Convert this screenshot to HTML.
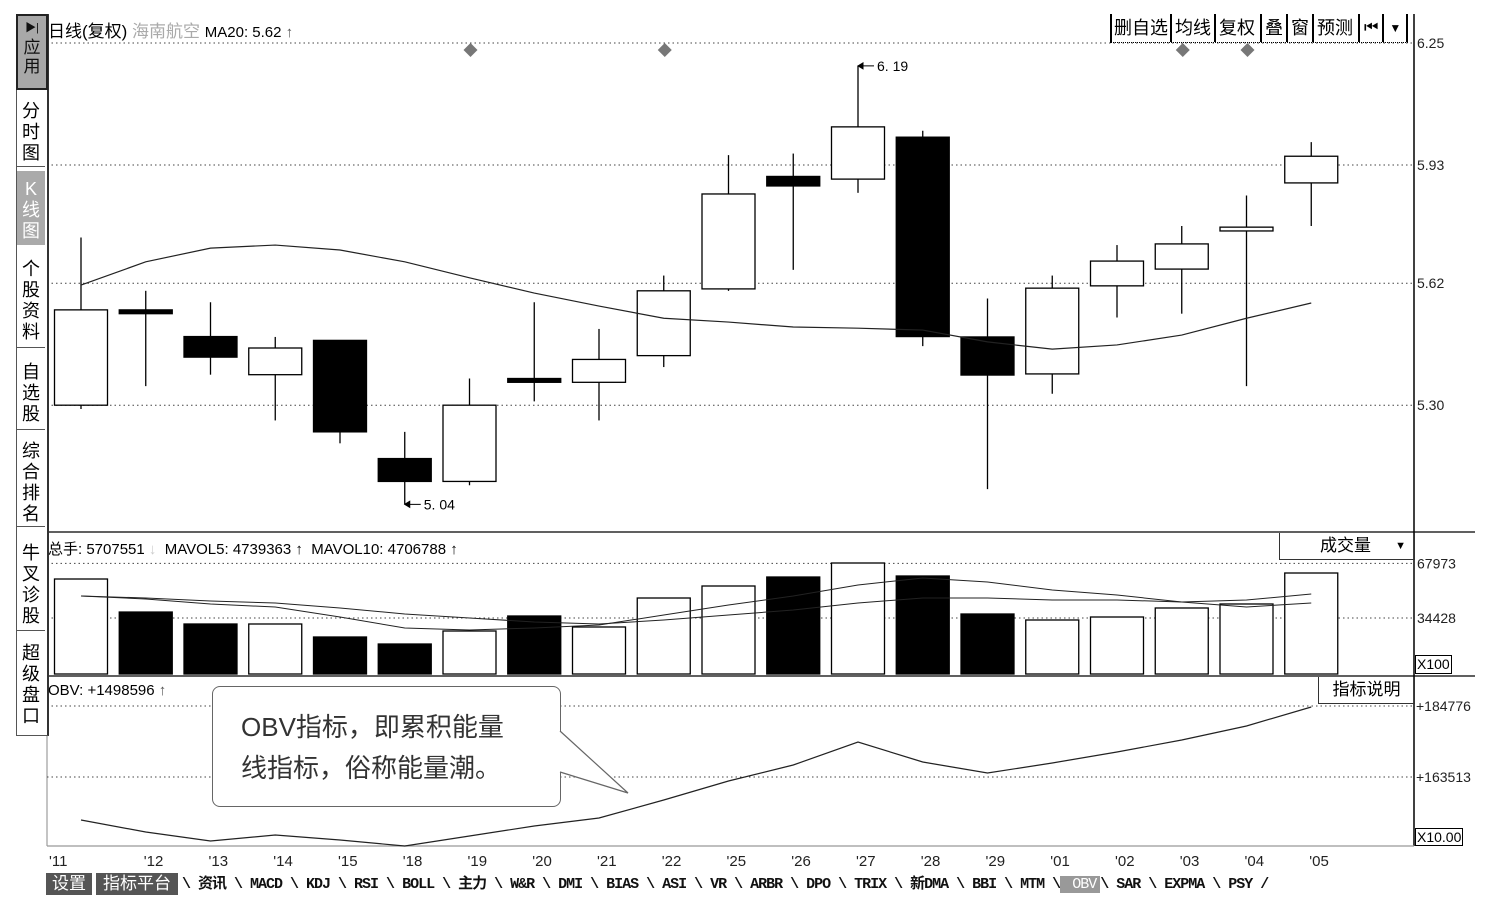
<!DOCTYPE html>
<html><head><meta charset="utf-8"><style>
html,body{margin:0;padding:0;background:#fff;}
svg text{font-family:"Liberation Sans","Noto Sans CJK SC",sans-serif;}
</style></head><body>
<svg id="c" width="1510" height="910" xmlns="http://www.w3.org/2000/svg">
</svg>
<script>
const dates=["11","12","13","14","15","18","19","20","21","22","25","26","27","28","29","01","02","03","04","05"];
const opens=[5.30,5.55,5.48,5.38,5.47,5.16,5.10,5.37,5.36,5.43,5.605,5.90,5.893,6.003,5.479,5.382,5.613,5.657,5.757,5.883];
const closes=[5.55,5.54,5.426,5.45,5.23,5.10,5.30,5.36,5.42,5.60,5.854,5.875,6.03,5.48,5.379,5.607,5.678,5.723,5.767,5.953];
const highs=[5.74,5.60,5.57,5.479,5.47,5.23,5.37,5.57,5.50,5.64,5.956,5.96,6.19,6.02,5.58,5.64,5.72,5.77,5.85,5.99];
const lows=[5.29,5.35,5.38,5.26,5.20,5.04,5.09,5.31,5.26,5.40,5.60,5.655,5.857,5.455,5.08,5.33,5.53,5.54,5.35,5.77];
const ma20=[5.615,5.676,5.712,5.720,5.707,5.676,5.634,5.594,5.560,5.528,5.518,5.505,5.502,5.497,5.466,5.447,5.458,5.484,5.528,5.568];
const priceTicks=["6.25","5.93","5.62","5.30"];
const volumes=[58400,38100,30740,30740,22750,18440,26440,35660,28900,46720,54100,59630,68240,60250,36890,33200,35040,40580,43040,62090];
const mavol5=[47950,46110,43030,41190,35040,28280,27050,28280,30120,36270,42420,47950,54720,59020,56560,51640,48560,44260,41190,43650];
const mavol10=[47950,46720,44880,43650,40580,36890,34430,31970,30740,33200,36270,39350,43650,46720,46720,45500,45500,44260,45500,49180];
const volTicks=[67973,34428];
const obv=[150633,147039,144344,146141,144643,142846,145841,148836,151232,156623,162314,167105,173994,168004,164710,167705,171000,174593,178786,184476];
const obvTicks=[184776,163513];
const diamondIdx=[6,9,17,18];

const S=document.getElementById('c');const NS='http://www.w3.org/2000/svg';
function el(t,a,txt){const e=document.createElementNS(NS,t);for(const k in a)e.setAttribute(k,a[k]);if(txt!==undefined)e.textContent=txt;S.appendChild(e);return e;}
const xC=i=>81+i*64.75;
const yP=p=>43+(6.25-p)*381.25;
const yV=v=>674-v*56/34428;
const yO=v=>706+(184776-v)/299.5;

let e;
e=el('line',{x1:1414,y1:14,x2:1414,y2:846,stroke:'#000','stroke-width':1.5});

e=el('line',{x1:47,y1:14,x2:47,y2:846,stroke:'#888','stroke-width':1});

[[532,1475,'#000'],[676,1475,'#000'],[846,1414,'#999']].forEach(([y,x2,c])=>{e=el('line',{x1:47,y1:y,x2:x2,y2:y,stroke:c,'stroke-width':1.2});});
priceTicks.forEach(t=>{const y=yP(+t);
e=el('line',{x1:47,y1:y,x2:1414,y2:y,stroke:'#444','stroke-dasharray':'1.5 3','stroke-width':1});
e=el('text',{x:1417,y:y+5,'font-size':14,fill:'#222'},t);});
volTicks.forEach(t=>{const y=yV(t);
e=el('line',{x1:47,y1:y,x2:1414,y2:y,stroke:'#444','stroke-dasharray':'1.5 3','stroke-width':1});
e=el('text',{x:1417,y:y+5,'font-size':14,fill:'#222'},String(t));});
obvTicks.forEach(t=>{const y=yO(t);
e=el('line',{x1:47,y1:y,x2:1414,y2:y,stroke:'#444','stroke-dasharray':'1.5 3','stroke-width':1});
e=el('text',{x:1416,y:y+5,'font-size':14,fill:'#222'},'+'+t);});

dates.forEach((d,i)=>{const x=xC(i),o=opens[i],c=closes[i];const up=c>=o;
e=el('line',{x1:x,y1:yP(highs[i]),x2:x,y2:yP(lows[i]),stroke:'#000','stroke-width':1.3});
const top=yP(Math.max(o,c)),h=Math.max(3,yP(Math.min(o,c))-top);
e=el('rect',{x:x-26.5,y:top,width:53,height:h,fill:up?'#fff':'#000',stroke:'#000','stroke-width':1.3});
});
e=el('polyline',{points:ma20.map((v,i)=>xC(i)+','+yP(v)).join(' '),fill:'none',stroke:'#222','stroke-width':1.2});
diamondIdx.forEach(i=>{const x=xC(i)+1,y=50;e=el('polygon',{points:`${x},${y-7} ${x+7},${y} ${x},${y+7} ${x-7},${y}`,fill:'#777'});});
{let hi=highs.indexOf(Math.max(...highs)),lo=lows.indexOf(Math.min(...lows));
let x=xC(hi),y=yP(highs[hi]);
e=el('path',{d:`M${x} ${y} L${x+16} ${y} M${x} ${y} l5 -3 l0 6 z`,stroke:'#000',fill:'#000'});
e=el('text',{x:x+19,y:y+5,'font-size':14,fill:'#000','font-family':'Liberation Mono'},'6. 19');
x=xC(lo);y=yP(lows[lo]);
e=el('path',{d:`M${x} ${y} L${x+16} ${y} M${x} ${y} l5 -3 l0 6 z`,stroke:'#000',fill:'#000'});
e=el('text',{x:x+19,y:y+5,'font-size':14,fill:'#000','font-family':'Liberation Mono'},'5. 04');}

volumes.forEach((v,i)=>{const x=xC(i);const up=closes[i]>=opens[i];
e=el('rect',{x:x-26.5,y:yV(v),width:53,height:674-yV(v),fill:up?'#fff':'#000',stroke:'#000','stroke-width':1.3});});
e=el('polyline',{points:mavol5.map((v,i)=>xC(i)+','+yV(v)).join(' '),fill:'none',stroke:'#222','stroke-width':1});
e=el('polyline',{points:mavol10.map((v,i)=>xC(i)+','+yV(v)).join(' '),fill:'none',stroke:'#222','stroke-width':1});
e=el('polyline',{points:obv.map((v,i)=>xC(i)+','+yO(v)).join(' '),fill:'none',stroke:'#222','stroke-width':1.2});

dates.forEach((d,i)=>{const x=i===0?49:xC(i)-2;
e=el('text',{x:x,y:866,'font-size':15,fill:'#222'},"'"+d);});
</script>
<div style="position:absolute;left:0;top:0;width:1510px;height:910px;pointer-events:none;font-family:'Liberation Sans','Noto Sans CJK SC',sans-serif;">
<div style="position:absolute;left:16px;top:14px;width:30px;height:720px;border:1px solid #555;border-right:2px solid #333;background:#fff;"></div>
<div style="position:absolute;left:16px;top:14px;width:28px;height:72px;background:#a8a8a8;border:2px solid #222;font-size:17px;line-height:19px;text-align:center;color:#111;"><span style="font-size:11px">▶|</span><br>应<br>用</div>
<div style="position:absolute;left:17px;top:95px;width:28px;font-size:18px;line-height:21px;text-align:center;border-bottom:1px solid #555;padding-top:6px;box-sizing:border-box;height:72px">分<br>时<br>图</div>
<div style="position:absolute;left:17px;top:171px;width:28px;height:74px;background:#aaa;color:#fff;font-size:18px;line-height:21px;text-align:center;padding-top:8px;box-sizing:border-box;">K<br>线<br>图</div>
<div style="position:absolute;left:17px;top:251px;width:28px;height:97px;font-size:18px;line-height:21px;text-align:center;border-bottom:1px solid #555;padding-top:8px;box-sizing:border-box;">个<br>股<br>资<br>料</div>
<div style="position:absolute;left:17px;top:350px;width:28px;height:80px;font-size:18px;line-height:21px;text-align:center;border-bottom:1px solid #555;padding-top:12px;box-sizing:border-box;">自<br>选<br>股</div>
<div style="position:absolute;left:17px;top:431px;width:28px;height:96px;font-size:18px;line-height:21px;text-align:center;border-bottom:1px solid #555;padding-top:10px;box-sizing:border-box;">综<br>合<br>排<br>名</div>
<div style="position:absolute;left:17px;top:533px;width:28px;height:98px;font-size:18px;line-height:21px;text-align:center;border-bottom:1px solid #555;padding-top:10px;box-sizing:border-box;">牛<br>叉<br>诊<br>股</div>
<div style="position:absolute;left:17px;top:633px;width:28px;height:100px;font-size:18px;line-height:21px;text-align:center;padding-top:10px;box-sizing:border-box;">超<br>级<br>盘<br>口</div>
<div style="position:absolute;left:48px;top:17px;font-size:17px;white-space:nowrap;color:#000;">日线(复权) <span style="color:#aaa">海南航空</span> <span style="font-size:15px">MA20: 5.62 <span style="color:#555">↑</span></span></div>
<div style="position:absolute;left:1110px;top:14px;height:28px;display:flex;font-size:18px;line-height:28px;border-bottom:1px dotted #000;">
<span style="border-left:2px solid #000;padding:0 2px">删自选</span>
<span style="border-left:2px solid #000;padding:0 3px">均线</span>
<span style="border-left:2px solid #000;padding:0 5px 0 3px">复权</span>
<span style="border-left:2px solid #000;padding:0 3px">叠</span>
<span style="border-left:2px solid #000;padding:0 3px">窗</span>
<span style="border-left:2px solid #000;padding:0 5px 0 3px">预测</span>
<span style="border-left:2px solid #000;padding:0 4px;font-size:16px">⏮</span>
<span style="border-left:2px solid #000;border-right:2px solid #000;padding:0 5px;font-size:12px">▼</span>
</div>
<div style="position:absolute;left:48px;top:538px;font-size:15px;white-space:nowrap;">总手: 5707551 <span style="color:#ccc">↓</span>&nbsp; MAVOL5: 4739363 ↑ &nbsp;MAVOL10: 4706788 ↑</div>
<div style="position:absolute;left:1279px;top:533px;width:134px;height:26px;border:1px solid #333;border-top:none;font-size:17px;line-height:26px;"><span style="position:absolute;left:40px">成交量</span><span style="position:absolute;right:8px;font-size:11px">▼</span></div>
<div style="position:absolute;left:1415px;top:655px;border:1.5px solid #000;font-size:14px;line-height:17px;padding:0 1px;">X100</div>
<div style="position:absolute;left:48px;top:682px;font-size:15px;white-space:nowrap;">OBV: +1498596 <span style="color:#555">↑</span></div>
<div style="position:absolute;left:1318px;top:677px;width:95px;height:26px;border:1px solid #333;border-top:none;font-size:17px;line-height:26px;text-align:center;">指标说明</div>
<div style="position:absolute;left:1415px;top:828px;border:1.5px solid #000;font-size:14px;line-height:16px;padding:0 1px;">X10.00</div>
<div style="position:absolute;left:212px;top:686px;width:349px;height:121px;border:1.2px solid #666;border-radius:8px;background:#fff;box-sizing:border-box;padding:20px 0 0 28px;font-size:26px;line-height:41px;color:#333;">OBV指标，即累积能量<br>线指标，俗称能量潮。</div>
<svg style="position:absolute;left:0;top:0" width="1510" height="910"><path d="M560 731 L628 793 L560 772 Z" fill="#fff" stroke="none"/><path d="M560 731 L628 793 L560 772" fill="none" stroke="#666" stroke-width="1.2"/></svg>
<div style="position:absolute;left:46px;top:873px;width:46px;height:22px;background:#555;color:#fff;font-size:17px;line-height:22px;text-align:center;">设置</div>
<div style="position:absolute;left:96px;top:873px;width:82px;height:22px;background:#555;color:#fff;font-size:17px;line-height:22px;text-align:center;">指标平台</div>
<div style="position:absolute;left:182px;top:874px;height:22px;font-size:15px;font-weight:bold;line-height:22px;white-space:nowrap;font-family:'Liberation Mono','Noto Sans CJK SC',monospace;letter-spacing:-1px;color:#111;">\ <span>资讯</span> \ MACD \ KDJ \ RSI \ BOLL \ 主力 \ W&amp;R \ DMI \ BIAS \ ASI \ VR \ ARBR \ DPO \ TRIX \ 新DMA \ BBI \ MTM \<span style="background:#999;color:#fff;padding:0 4px;font-weight:normal"> OBV</span>\ SAR \ EXPMA \ PSY /</div>
</div>
</body></html>
